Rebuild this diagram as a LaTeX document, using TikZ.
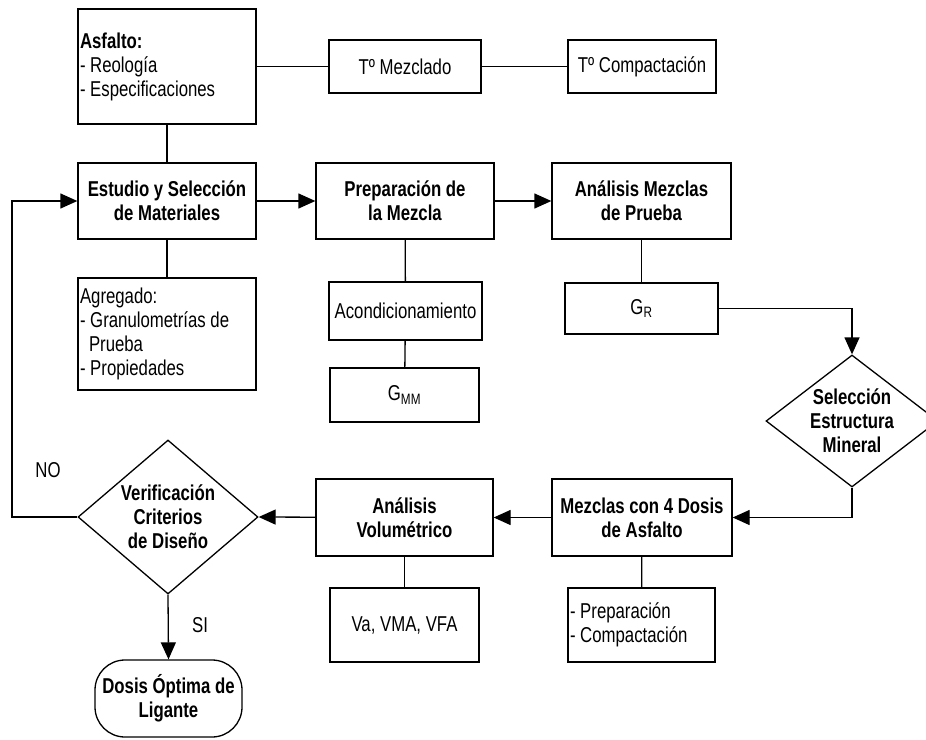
\documentclass[tikz,border=0pt]{standalone}
\usepackage{fontspec}
\setmainfont{Liberation Sans}[FakeStretch=0.78]
\usetikzlibrary{arrows.meta,shapes.geometric}

\begin{document}
\begin{tikzpicture}[x=1pt,y=-1pt,
  txt/.style={font=\fontsize{21.5}{24}\selectfont},
  btxt/.style={font=\fontsize{21.5}{24}\selectfont\bfseries},
  box/.style={draw, line width=1.3pt, inner sep=0pt, align=center},
  lbox/.style={box, align=flush left, inner xsep=2pt},
  bx/.style 2 args={minimum width=#1pt, minimum height=#2pt},
  decision/.style={draw, line width=1.3pt, diamond, inner sep=0pt, aspect=1},
  terminal/.style={draw, line width=1.3pt, rounded corners=30pt, inner sep=0pt, align=center},
  link/.style={line width=1.3pt},
  arr/.style={line width=1.3pt, -{Triangle[length=17pt,width=15pt]}}
]
\useasboundingbox (0,0) rectangle (926,739);

% top row: binder and temperatures
\node[lbox, txt, bx={178}{115}, text width=174pt] (asf) at (167,66.5)
  {\textbf{Asfalto:}\\- Reología\\- Especificaciones};
\node[box, txt, bx={152}{53}] (tmez) at (405,66.5) {Tº Mezclado};
\node[box, txt, bx={148}{53}] (tcomp) at (642,66.5) {Tº Compactación};

% main row
\node[box, btxt, bx={178}{76}] (est) at (167,201) {Estudio y Selección\\de Materiales};
\node[box, btxt, bx={178}{76}] (prep) at (405,201) {Preparación de\\la Mezcla};
\node[box, btxt, bx={179}{76}] (anal) at (641.5,201) {Análisis Mezclas\\de Prueba};

% details under the main row
\node[lbox, txt, bx={178}{112}, text width=174pt] (agr) at (167,334)
  {Agregado:\\- Granulometrías de\\\hspace*{9pt}Prueba\\- Propiedades};
\node[box, txt, bx={153}{58}] (acond) at (405.5,311) {Acondicionamiento};
\node[box, txt, bx={149}{54}] (gmm) at (404.5,395) {G\textsubscript{MM}};
\node[box, txt, bx={153}{51}] (gr) at (641.5,308.5) {G\textsubscript{R}};

% mineral structure decision
\node[decision, minimum width=172pt, minimum height=132pt] (sel) at (852,421) {};
\node[btxt, align=center, inner sep=0pt] (selt) at (sel.center) {Selección\\Estructura\\Mineral};

% lower row
\node[box, btxt, bx={180}{77}] (mez4) at (642,517.5) {Mezclas con 4 Dosis\\de Asfalto};
\node[box, btxt, bx={177}{77}] (vol) at (404.5,517.5) {Análisis\\Volumétrico};
\node[box, txt, bx={149}{74}] (va) at (404.5,625) {Va, VMA, VFA};
\node[lbox, txt, bx={147}{74}, text width=143pt] (pc) at (641.5,625)
  {- Preparación\\- Compactación};

% design check and result
\node[decision, minimum width=180pt, minimum height=154pt] (ver) at (168,517) {};
\node[btxt, align=center, inner sep=0pt] (vert) at (ver.center) {Verificación\\Criterios\\de Diseño};
\node[terminal, btxt, minimum width=147pt, minimum height=77pt] (dos) at (168.5,698.5)
  {Dosis Óptima de\\Ligante};

\node[txt, inner sep=0pt] (no) at (48,470) {NO};
\node[txt, inner sep=0pt] (si) at (200,625) {SI};

% plain links
\draw[link] (asf) -- (tmez);
\draw[link] (tmez) -- (tcomp);
\draw[link] (asf) -- (est);
\draw[link] (est) -- (agr);
\draw[link] (prep) -- (acond);
\draw[link] (acond) -- (gmm);
\draw[link] (anal) -- (gr);
\draw[link] (vol) -- (va);
\draw[link] (mez4) -- (pc);

% flow arrows
\draw[arr] (est) -- (prep);
\draw[arr] (prep) -- (anal);
\draw[arr] (gr.east) -| (sel.north);
\draw[arr] (sel.south) |- (mez4.east);
\draw[arr] (mez4) -- (vol);
\draw[arr] (vol) -- (ver.east);
\draw[arr] (ver.south) -- (dos.north);

% feedback loop when the criteria fail
\coordinate (fb1) at (12,517);
\coordinate (fb2) at (12,201);
\draw[arr] (ver.west) -- (fb1) -- (fb2) -- (est.west);
\end{tikzpicture}
\end{document}
